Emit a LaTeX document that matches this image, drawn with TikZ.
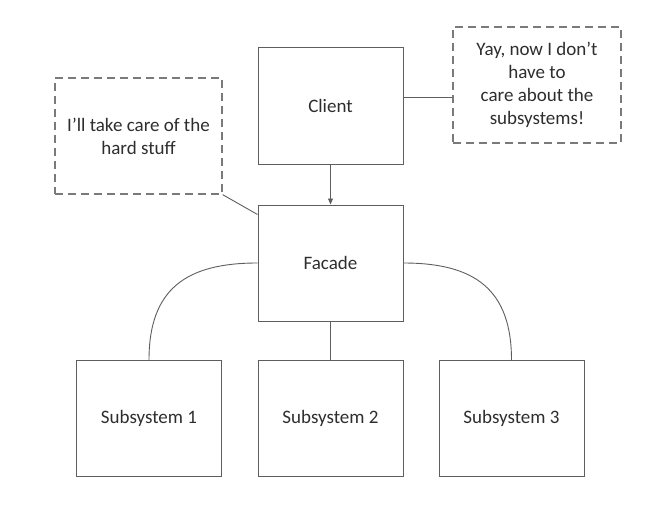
\documentclass[tikz,border=0pt]{standalone}
\usepackage{fontspec}
\setmainfont{Carlito}
\usetikzlibrary{arrows.meta,calc}
\definecolor{txt}{HTML}{2E2E2E}
\definecolor{edge}{HTML}{5E5E5E}
\definecolor{dsh}{HTML}{7A7A7A}
\begin{document}
\begin{tikzpicture}[x=1pt,y=-1pt,
  box/.style={draw=edge,line width=1pt,rectangle,inner sep=0pt,
    minimum width=145pt,minimum height=116pt,text=txt,align=center,
    font=\fontsize{19}{23}\selectfont},
  note/.style={draw=dsh,line width=1.3pt,dash pattern=on 8pt off 5pt,rectangle,inner sep=0pt,
    minimum height=116pt,text=txt,align=center,font=\fontsize{19}{23}\selectfont},
  conn/.style={draw=edge,line width=0.9pt}]
\useasboundingbox[fill=white] (0,0) rectangle (662,519);
\node[box] (client) at (330.5,106) {Client};
\node[box] (facade) at (330.5,263) {Facade};
\node[box] (s1) at (149,418.5) {Subsystem 1};
\node[box] (s2) at (330.5,418.5) {Subsystem 2};
\node[box] (s3) at (511.5,418.5) {Subsystem 3};
\node[note,minimum width=167pt] (lnote) at (138.5,136) {I’ll take care of the\\hard stuff};
\node[note,minimum width=168pt] (rnote) at (537,85) {Yay, now I don’t\\have to\\care about the\\subsystems!};
\draw[conn,-{Triangle[length=6pt,width=5pt]}] (client.south) -- (facade.north);
\draw[conn] ([yshift=9pt]client.east) -- ([yshift=9pt]client.east -| rnote.west);
\draw[conn] (lnote.south east) -- ([yshift=-10pt]facade.north west);
\draw[conn] (facade.west) to[out=180,in=90,looseness=1.25] (s1.north);
\draw[conn] (facade.east) to[out=0,in=90,looseness=1.25] (s3.north);
\draw[conn] (facade.south) -- (s2.north);
\end{tikzpicture}
\end{document}
